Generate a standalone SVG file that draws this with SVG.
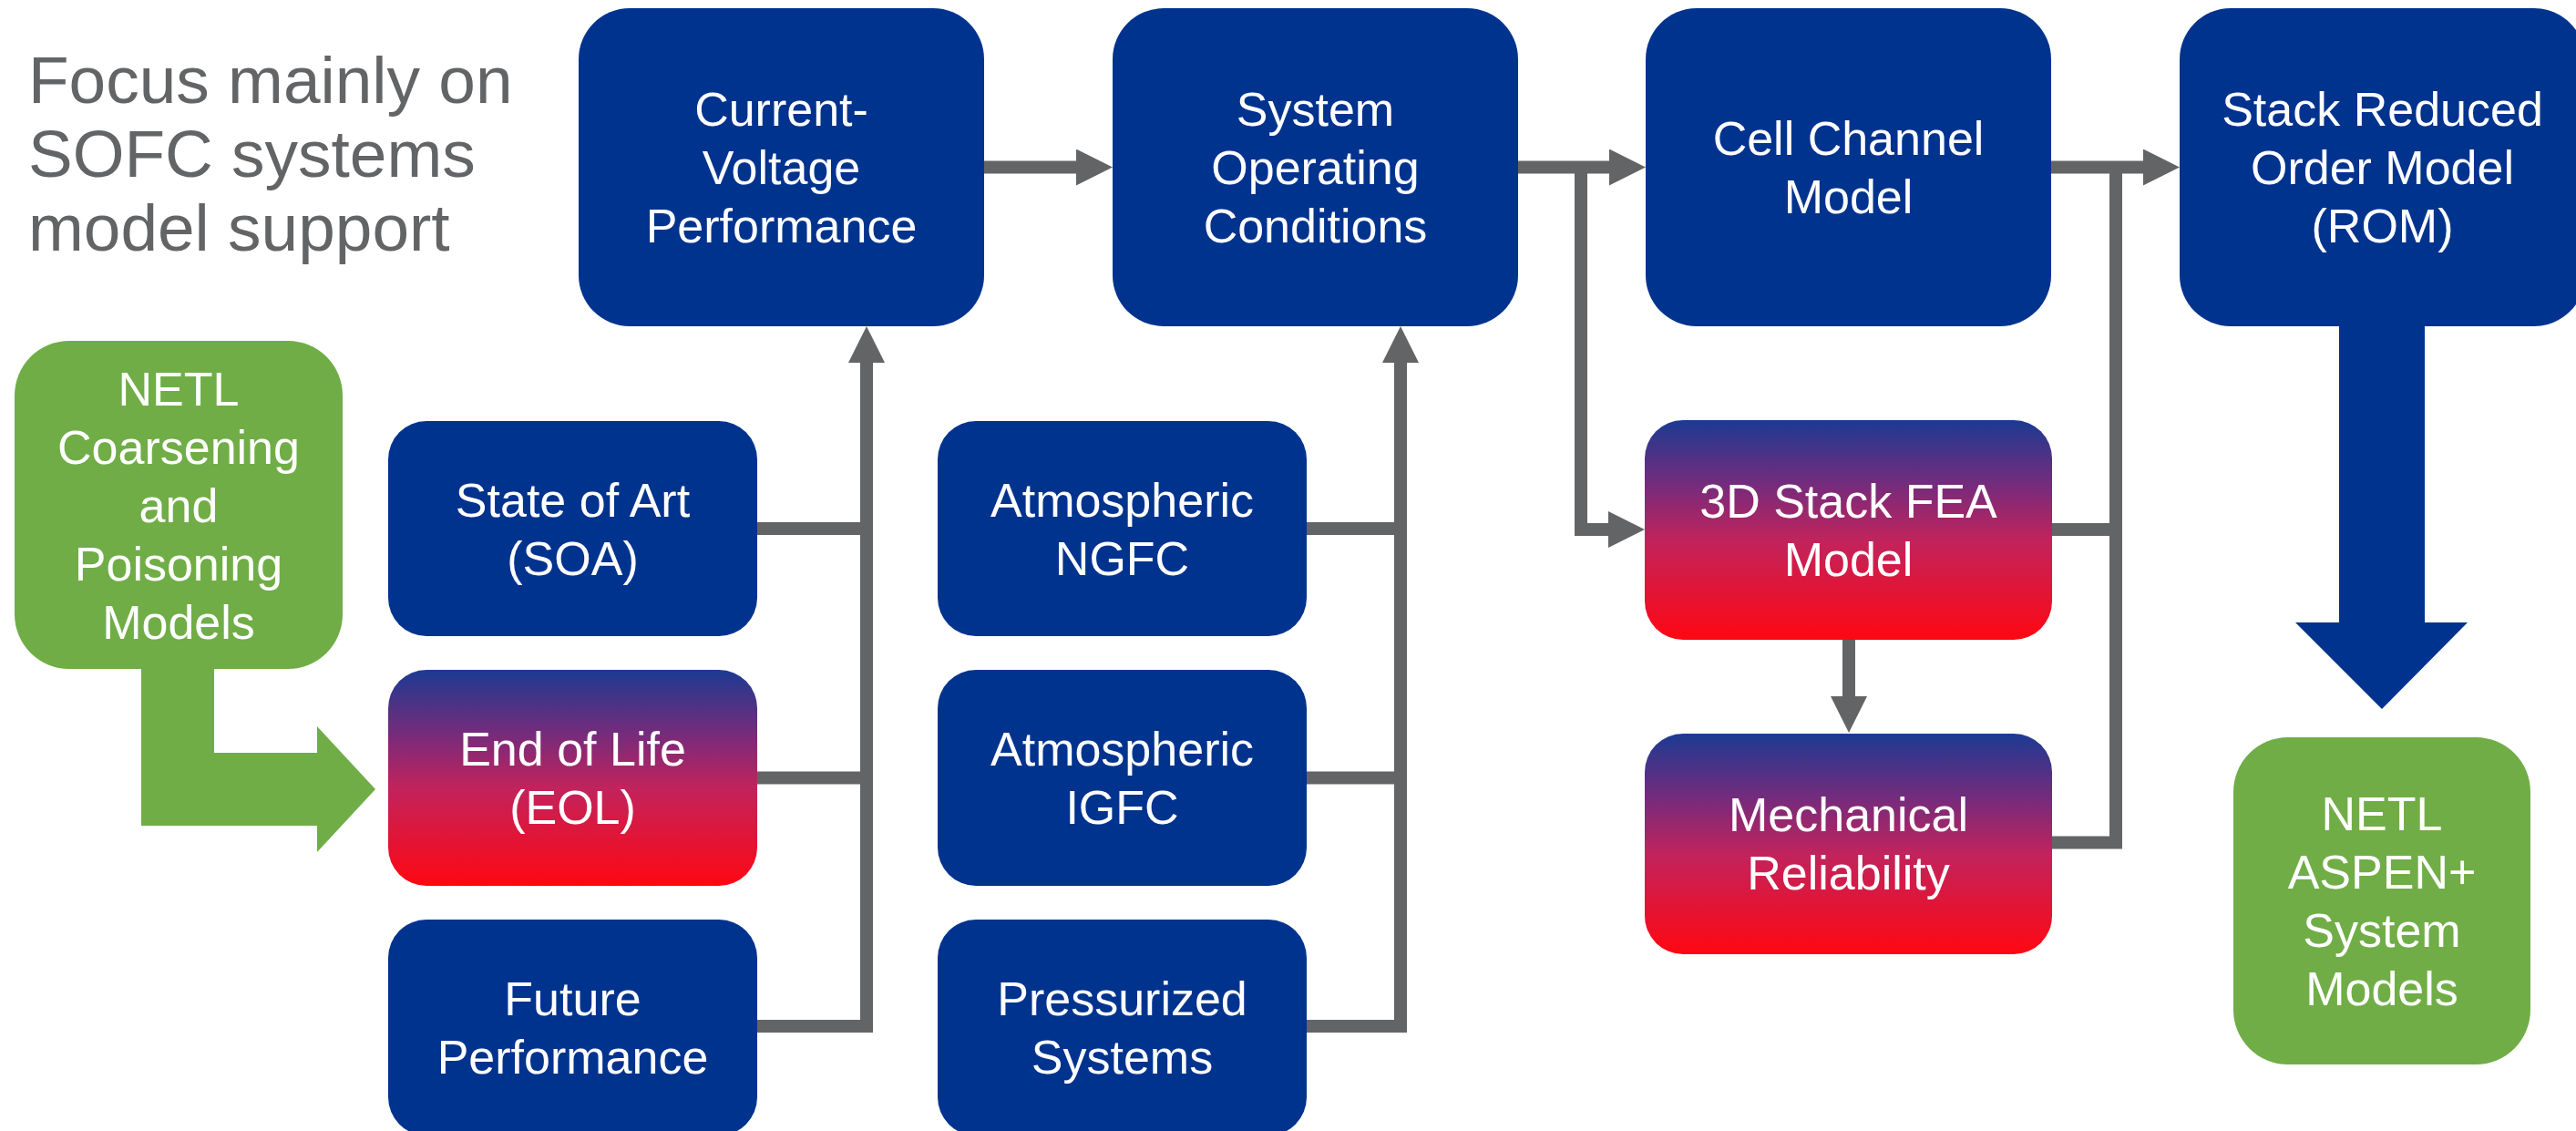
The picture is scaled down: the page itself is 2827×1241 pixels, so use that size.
<svg xmlns="http://www.w3.org/2000/svg" width="2827" height="1241" viewBox="0 0 2827 1241">
<style>
.blue{fill:#00338E}
.grad{fill:url(#rg)}
.green{fill:#70AD47}
.lbl{font-family:"Liberation Sans",Arial,sans-serif;font-size:52px;fill:#FFFFFF;text-anchor:middle}
.title{font-family:"Liberation Sans",Arial,sans-serif;font-size:73px;fill:#636466}
.conn{fill:none;stroke:#636466;stroke-width:14;stroke-linejoin:miter;stroke-linecap:butt}
</style>
<defs>
<linearGradient id="rg" x1="0" y1="0" x2="0" y2="1">
<stop offset="0" stop-color="#1C3A92"/>
<stop offset="0.3" stop-color="#772B7B"/>
<stop offset="0.55" stop-color="#C2235C"/>
<stop offset="1" stop-color="#FF0712"/>
</linearGradient>
<marker id="ah" markerUnits="userSpaceOnUse" markerWidth="40" markerHeight="40" refX="0" refY="20" orient="auto" viewBox="0 0 40 40">
<path d="M0,0 L40,20 L0,40 Z" fill="#636466"/>
</marker>
</defs>

<g id="title">
<text class="title" x="31" y="113">Focus mainly on</text>
<text class="title" x="31" y="194">SOFC systems</text>
<text class="title" x="31" y="275">model support</text>
</g>

<g id="connectors">
<path class="conn" d="M1080,183.5 H1181" marker-end="url(#ah)"/>
<path class="conn" d="M1665,183.5 H1766" marker-end="url(#ah)"/>
<path class="conn" d="M1735,184 V581 H1765" marker-end="url(#ah)"/>
<path class="conn" d="M2251,183.5 H2352" marker-end="url(#ah)"/>
<path class="conn" d="M2252,581 H2322"/>
<path class="conn" d="M2252,924.5 H2322 V184"/>
<path class="conn" d="M2029,702 V764" marker-end="url(#ah)"/>
<path class="conn" d="M831,580 H951"/>
<path class="conn" d="M831,853.5 H951"/>
<path class="conn" d="M831,1126 H951 V398" marker-end="url(#ah)"/>
<path class="conn" d="M1434,580 H1537"/>
<path class="conn" d="M1434,853.5 H1537"/>
<path class="conn" d="M1434,1126 H1537 V398" marker-end="url(#ah)"/>
<polygon id="green-arrow" class="green" points="155,730 235,730 235,826 348,826 348,797 412,866 348,935 348,906 155,906"/>
<polygon id="blue-arrow" class="blue" points="2567,350 2661,350 2661,683 2708,683 2614,778 2519,683 2567,683"/>
</g>

<g id="current-voltage">
<rect class="blue" x="635" y="9" width="445" height="349" rx="56" ry="56"/>
<text class="lbl" x="857.5" y="138">Current-</text>
<text class="lbl" x="857.5" y="202">Voltage</text>
<text class="lbl" x="857.5" y="266">Performance</text>
</g>

<g id="system-operating">
<rect class="blue" x="1221" y="9" width="445" height="349" rx="56" ry="56"/>
<text class="lbl" x="1443.5" y="138">System</text>
<text class="lbl" x="1443.5" y="202">Operating</text>
<text class="lbl" x="1443.5" y="266">Conditions</text>
</g>

<g id="cell-channel">
<rect class="blue" x="1806" y="9" width="445" height="349" rx="56" ry="56"/>
<text class="lbl" x="2028.5" y="170">Cell Channel</text>
<text class="lbl" x="2028.5" y="234">Model</text>
</g>

<g id="stack-rom">
<rect class="blue" x="2392" y="9" width="445" height="349" rx="56" ry="56"/>
<text class="lbl" x="2614.5" y="138">Stack Reduced</text>
<text class="lbl" x="2614.5" y="202">Order Model</text>
<text class="lbl" x="2614.5" y="266">(ROM)</text>
</g>

<g id="netl-coarsening">
<rect class="green" x="16" y="374" width="360" height="360" rx="60" ry="60"/>
<text class="lbl" x="196" y="445">NETL</text>
<text class="lbl" x="196" y="509">Coarsening</text>
<text class="lbl" x="196" y="573">and</text>
<text class="lbl" x="196" y="637">Poisoning</text>
<text class="lbl" x="196" y="701">Models</text>
</g>

<g id="state-of-art">
<rect class="blue" x="426" y="462" width="405" height="236" rx="42" ry="42"/>
<text class="lbl" x="628.5" y="567">State of Art</text>
<text class="lbl" x="628.5" y="631">(SOA)</text>
</g>

<g id="end-of-life">
<rect class="grad" x="426" y="735" width="405" height="237" rx="42" ry="42"/>
<text class="lbl" x="628.5" y="840">End of Life</text>
<text class="lbl" x="628.5" y="904">(EOL)</text>
</g>

<g id="future-performance">
<rect class="blue" x="426" y="1009" width="405" height="237" rx="42" ry="42"/>
<text class="lbl" x="628.5" y="1114">Future</text>
<text class="lbl" x="628.5" y="1178">Performance</text>
</g>

<g id="atmospheric-ngfc">
<rect class="blue" x="1029" y="462" width="405" height="236" rx="42" ry="42"/>
<text class="lbl" x="1231.5" y="567">Atmospheric</text>
<text class="lbl" x="1231.5" y="631">NGFC</text>
</g>

<g id="atmospheric-igfc">
<rect class="blue" x="1029" y="735" width="405" height="237" rx="42" ry="42"/>
<text class="lbl" x="1231.5" y="840">Atmospheric</text>
<text class="lbl" x="1231.5" y="904">IGFC</text>
</g>

<g id="pressurized-systems">
<rect class="blue" x="1029" y="1009" width="405" height="237" rx="42" ry="42"/>
<text class="lbl" x="1231.5" y="1114">Pressurized</text>
<text class="lbl" x="1231.5" y="1178">Systems</text>
</g>

<g id="stack-fea">
<rect class="grad" x="1805" y="461" width="447" height="241" rx="42" ry="42"/>
<text class="lbl" x="2028.5" y="568">3D Stack FEA</text>
<text class="lbl" x="2028.5" y="632">Model</text>
</g>

<g id="mechanical-reliability">
<rect class="grad" x="1805" y="805" width="447" height="242" rx="42" ry="42"/>
<text class="lbl" x="2028.5" y="912">Mechanical</text>
<text class="lbl" x="2028.5" y="976">Reliability</text>
</g>

<g id="netl-aspen">
<rect class="green" x="2451" y="809" width="326" height="359" rx="60" ry="60"/>
<text class="lbl" x="2614" y="911">NETL</text>
<text class="lbl" x="2614" y="975">ASPEN+</text>
<text class="lbl" x="2614" y="1039">System</text>
<text class="lbl" x="2614" y="1103">Models</text>
</g>
</svg>
